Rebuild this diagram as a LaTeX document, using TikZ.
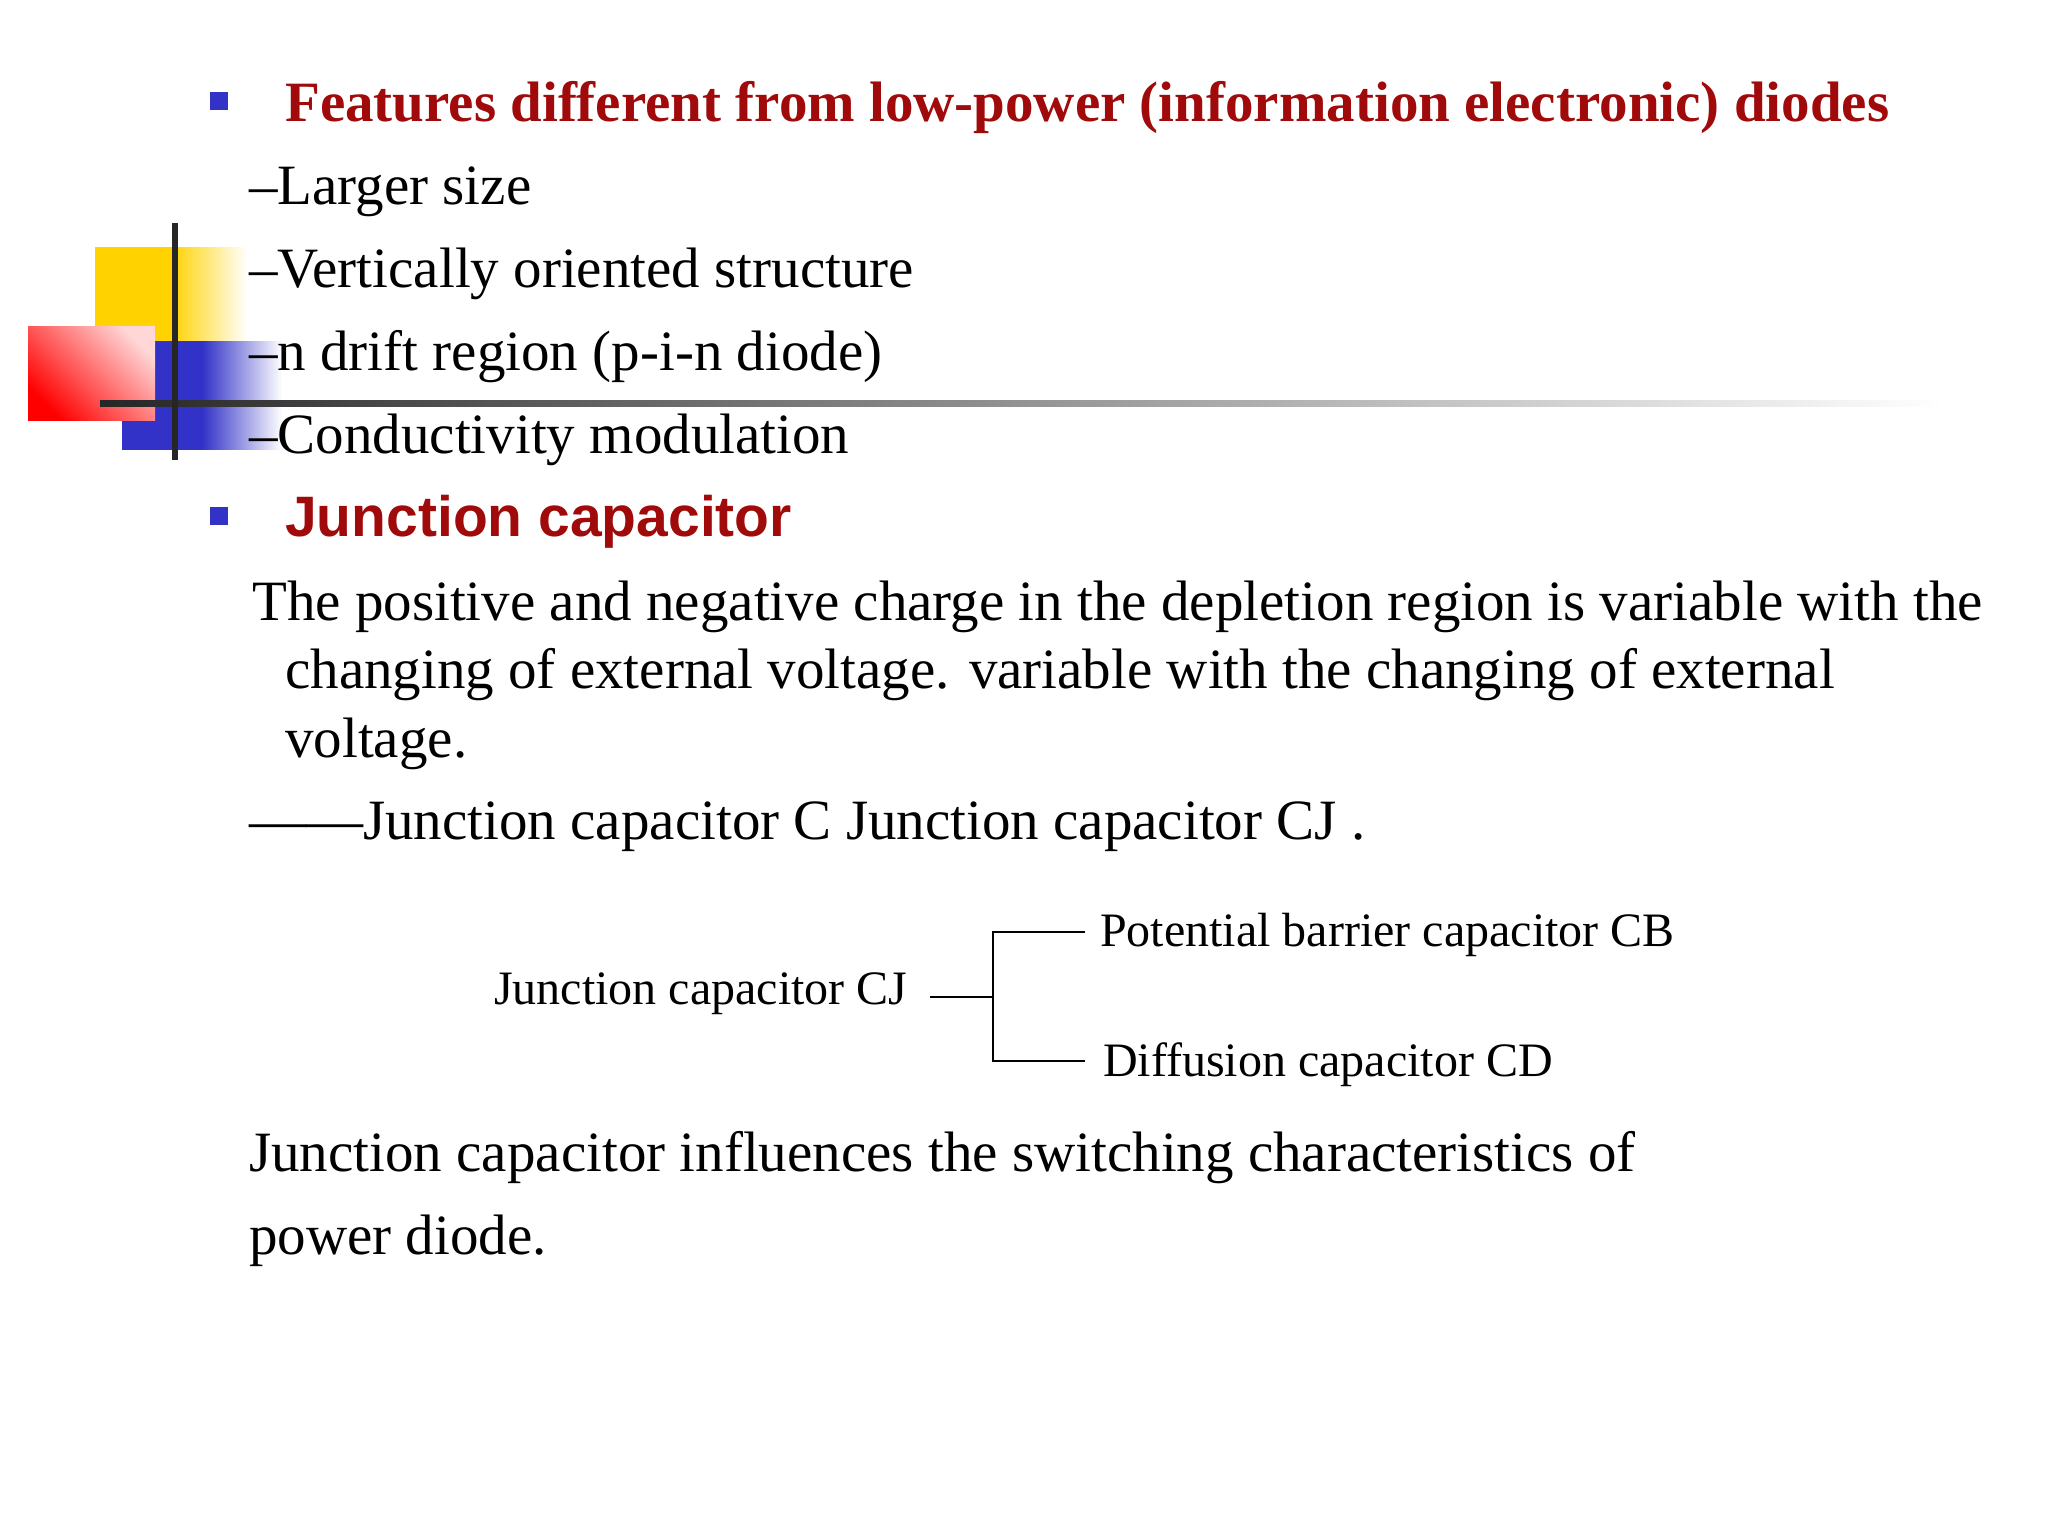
\documentclass[tikz,border=0pt]{standalone}
\usepackage{fontspec}
\setmainfont{Liberation Serif}
\newfontfamily\arialf{Liberation Sans}
\definecolor{dred}{RGB}{160,10,10}
\definecolor{bblue}{RGB}{50,50,200}
\definecolor{yel}{RGB}{255,210,0}
\begin{document}
\begin{tikzpicture}[x=1pt,y=-1pt,
  body/.style={anchor=west,inner sep=0pt,font=\fontsize{57}{68}\selectfont},
  small/.style={anchor=west,inner sep=0pt,font=\fontsize{48}{58}\selectfont},
  head/.style={anchor=west,inner sep=0pt,text=dred,font=\fontsize{57}{68}\selectfont\bfseries},
  bul/.style={fill=bblue}]
\useasboundingbox (0,0) rectangle (2048,1536);
% decoration
\shade[left color=yel,right color=white,middle color=yel] (95,247) rectangle (247,394);
\shade[left color=bblue,right color=white,middle color=bblue] (122,341) rectangle (282,449);
\shade[top color={rgb,255:red,255;green,215;blue,215},bottom color=red,shading angle=-45] (28,326) rectangle (155,420);
\shade[left color=black!85,right color=white] (100,400) rectangle (1943,406);
\fill[black!85] (172,223) rectangle (178,460);
% bullets
\fill[bul] (210,92) rectangle (228,110);
\fill[bul] (210,507) rectangle (228,525);
\node[head] (t1) at (285,108) {Features different from low-power (information electronic) diodes};
\node[body] (l1) at (249,192) {--Larger size};
\node[body] (l2) at (249,274) {--Vertically oriented structure};
\node[body] (l3) at (249,357) {--n drift region (p-i-n diode)};
\node[body] (l4) at (249,440) {--Conductivity modulation};
\node[head,font=\fontsize{57}{68}\selectfont\bfseries\arialf] (t2) at (285,522) {Junction capacitor};
\node[body] (p1) at (252,607) {The positive and negative charge in the depletion region is variable with the};
\node[body] (p2) at (285,675) {changing of external voltage. variable with the changing of external};
\node[body] (p3) at (285,744) {voltage.};
\node[body] (p4) at (249,827) {------Junction capacitor C Junction capacitor CJ .};
\node[small] (cj) at (494,994) {Junction capacitor CJ};
\node[small] (cb) at (1100,935) {Potential barrier capacitor CB};
\node[small] (cd) at (1103,1065) {Diffusion capacitor CD};
\coordinate (j) at (993,997);
\draw[line width=2] (930,997) -- (j);
\draw[line width=2] (1085,932) -- (993,932) -- (993,1061) -- (1085,1061);
\node[body] (q1) at (249,1158) {Junction capacitor influences the switching characteristics of};
\node[body] (q2) at (249,1241) {power diode.};
\end{tikzpicture}
\end{document}
